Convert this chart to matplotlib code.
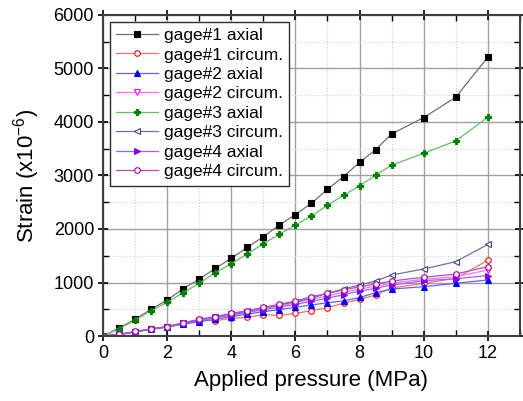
import numpy as np
import matplotlib.pyplot as plt
from matplotlib.ticker import MultipleLocator

plt.rcParams['font.family'] = ['Liberation Sans', 'DejaVu Sans']
plt.rcParams['mathtext.fontset'] = 'custom'
plt.rcParams['mathtext.rm'] = 'Liberation Sans'

pressure = [0, 0.5, 1, 1.5, 2, 2.5, 3, 3.5, 4, 4.5, 5, 5.5, 6, 6.5, 7, 7.5, 8, 8.5, 9, 10, 11, 12]

g1_axial = [0, 150, 315, 500, 675, 884, 1062, 1265, 1450, 1657, 1855, 2075, 2270, 2480,
            2742, 2978, 3243, 3480, 3776, 4080, 4462, 5209]
g1_circ = [0, 30, 80, 131, 165, 230, 299, 287, 330, 349, 399, 386, 424, 473,
           530, 611, 686, 766, 900, 985, 1078, 1415]
g2_axial = [0, 25, 75, 125, 170, 220, 268, 315, 361, 408, 455, 495, 536, 580,
            623, 655, 720, 809, 878, 922, 985, 1047]
g2_circ = [0, 30, 80, 130, 175, 240, 300, 350, 405, 455, 510, 565, 620, 690,
           750, 815, 880, 930, 990, 1060, 1110, 1234]
g3_axial = [0, 137, 299, 473, 629, 810, 985, 1184, 1352, 1533, 1725, 1900, 2075, 2243,
            2443, 2630, 2804, 3004, 3190, 3414, 3645, 4088]
g3_circ = [0, 30, 80, 130, 175, 245, 305, 355, 415, 465, 525, 580, 640, 705,
           800, 878, 953, 1028, 1140, 1252, 1389, 1710]
g4_axial = [0, 28, 78, 128, 172, 235, 290, 340, 390, 440, 490, 540, 590, 650,
            710, 770, 840, 891, 953, 1034, 1070, 1130]
g4_circ = [0, 32, 85, 135, 175, 249, 312, 361, 424, 473, 536, 592, 654, 735,
           798, 860, 920, 972, 1028, 1097, 1159, 1296]

# label, data, line colour, marker colour, marker, filled
series = [
    ("gage#1 axial", g1_axial, "#707070", "black", "s", True),
    ("gage#1 circum.", g1_circ, "#ff7070", "red", "o", False),
    ("gage#2 axial", g2_axial, "#6060ff", "blue", "^", True),
    ("gage#2 circum.", g2_circ, "#ff70ff", "magenta", "v", False),
    ("gage#3 axial", g3_axial, "#60c060", "green", "P", True),
    ("gage#3 circum.", g3_circ, "#7070b0", "#404090", "<", False),
    ("gage#4 axial", g4_axial, "#a060ff", "#8000ff", ">", True),
    ("gage#4 circum.", g4_circ, "#b050b0", "#a000a0", "o", False),
]

fig = plt.figure(figsize=(5.23, 4.01), dpi=100)
ax = fig.add_axes([0.197, 0.162, 0.797, 0.801])

for label, vals, lc, mc, mk, filled in series:
    ax.plot(pressure, vals, color=lc, lw=0.9, marker=mk, markersize=4,
            markeredgecolor=mc, markerfacecolor=mc if filled else "white",
            markeredgewidth=0.8, label=label)

ax.set_xlim(0, 13)
ax.set_ylim(0, 6000)
ax.xaxis.set_major_locator(MultipleLocator(2))
ax.xaxis.set_minor_locator(MultipleLocator(1))
ax.yaxis.set_major_locator(MultipleLocator(1000))
ax.yaxis.set_minor_locator(MultipleLocator(500))

ax.grid(which="major", color="#a0a0a0", lw=1.0)
ax.grid(which="minor", color="#d0d0d0", lw=0.8, ls=":")
ax.set_axisbelow(True)

for sp in ax.spines.values():
    sp.set_color("#404040")
    sp.set_linewidth(1.5)

ax.tick_params(which="major", direction="inout", length=7, width=1.2, top=True, right=True,
               labelsize=13, pad=3)
ax.tick_params(which="minor", direction="in", length=4, width=1.0, top=True, right=True)

ax.set_xlabel("Applied pressure (MPa)", fontsize=16, labelpad=6)
ax.set_ylabel("Strain (x10$^{-6}$)", fontsize=16, labelpad=8)

leg = ax.legend(loc="upper left", fontsize=12.5, frameon=True, fancybox=False,
                framealpha=1, edgecolor="#303030", handlelength=2.4, handletextpad=0.35,
                borderaxespad=0.4, labelspacing=0.25, borderpad=0.35)
leg.get_frame().set_linewidth(1.0)

fig.savefig("out.png", dpi=100)
